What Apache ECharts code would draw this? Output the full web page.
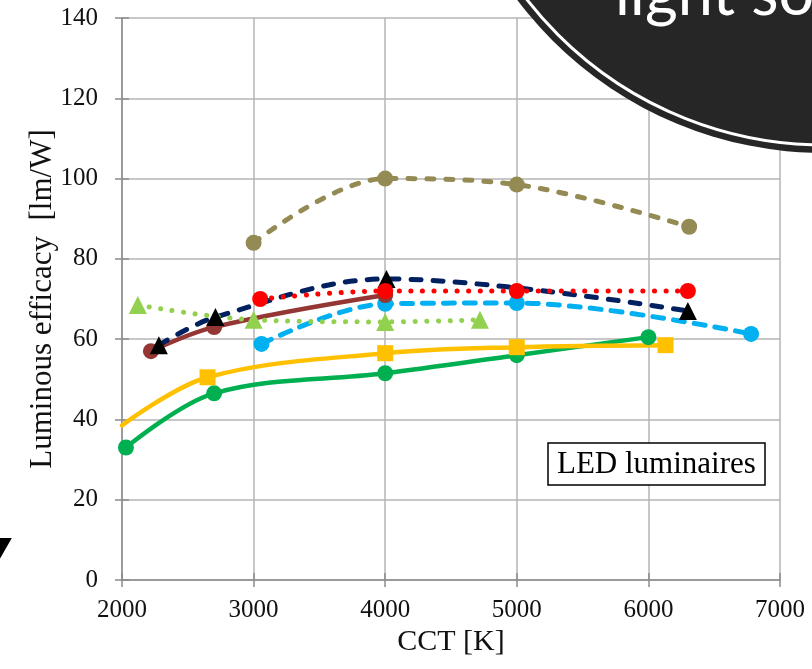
<!DOCTYPE html>
<html>
<head>
<meta charset="utf-8">
<script src="https://cdn.jsdelivr.net/npm/echarts@6/dist/echarts.min.js"></script>
<style>
  html, body { margin: 0; padding: 0; background: #fff; }
  #chart { width: 812px; height: 669px; }
</style>
</head>
<body>
<div id="chart"></div>
<script>
// ---- data (CCT in K, efficacy in lm/W) ----
const xTicks = [2000, 3000, 4000, 5000, 6000, 7000];
const yTicks = [0, 20, 40, 60, 80, 100, 120, 140];

const cctGreen = [2030, 2700, 4000, 5000, 6000];
const effGreen = [33, 46.5, 51.5, 56, 60.5];

const cctAmber = [2000, 2650, 4000, 5000, 6130];
const effAmber = [38.5, 50.5, 56.5, 58, 58.5];

const cctBlue = [3060, 4000, 5000, 6780];
const effBlue = [58.8, 68.8, 69, 61.3];

const cctBrown = [2220, 2700, 4000];
const effBrown = [57, 63, 71];

const cctNavy = [2280, 2710, 4010, 6300];
const effNavy = [58.5, 65.5, 75, 67];

const cctRed = [3050, 4000, 5000, 6300];
const effRed = [70, 72, 72, 72];

const cctLime = [2120, 3000, 4000, 4720];
const effLime = [68.5, 64.8, 64.3, 64.8];

const cctOlive = [3000, 4000, 5000, 6310];
const effOlive = [84, 100, 98.5, 88];

(function () {
  'use strict';
  const serif = "'Liberation Serif', 'DejaVu Serif', serif";
  const pairs = (xs, ys) => xs.map((x, i) => [x, ys[i]]);
  const axisGray = '#8c8c8c';

  function line(name, xs, ys, color, opts) {
    return Object.assign({
      name, type: 'line', data: pairs(xs, ys),
      smooth: 0.35, symbol: 'circle', symbolSize: 16,
      lineStyle: { color, width: 4.5, cap: 'round' },
      itemStyle: { color },
      emphasis: { disabled: true }
    }, opts || {});
  }

  const chart = echarts.init(document.getElementById('chart'));
  chart.setOption({
    animation: false,
    grid: { left: 122, right: 32, top: 18, bottom: 89 },
    title: {
      text: 'LED luminaires', left: 548, top: 443,
      borderColor: '#000', borderWidth: 1.5, padding: [6, 9, 5, 9],
      backgroundColor: '#fff',
      textStyle: { fontFamily: serif, fontSize: 31, fontWeight: 'normal', color: '#000' }
    },
    xAxis: [{
      type: 'value', min: 2000, max: 7000, interval: 1000,
      name: 'CCT [K]', nameLocation: 'middle', nameGap: 47, nameMoveOverlap: false,
      nameTextStyle: { fontFamily: serif, fontSize: 30, color: '#111' },
      axisLine: { lineStyle: { color: axisGray, width: 1.5 } },
      axisTick: { show: true, length: 7, lineStyle: { color: axisGray, width: 1.5 } },
      axisLabel: { fontFamily: serif, fontSize: 25, color: '#111', margin: 18,
                   formatter: (v) => xTicks.includes(v) ? String(v) : '' },
      splitLine: { show: true, lineStyle: { color: '#b4b4b4', width: 1.5 } }
    }, {
      type: 'value', min: 2000, max: 7000, interval: 1000, position: 'bottom',
      axisLine: { show: false }, axisLabel: { show: false }, splitLine: { show: false },
      axisTick: { show: true, inside: true, length: 7, lineStyle: { color: axisGray, width: 1.5 } }
    }],
    yAxis: [{
      type: 'value', min: 0, max: 140, interval: 20,
      name: 'Luminous efficacy  [lm/W]', nameLocation: 'middle', nameGap: 64, nameMoveOverlap: false,
      nameTextStyle: { fontFamily: serif, fontSize: 31, color: '#111' },
      axisLine: { show: true, lineStyle: { color: axisGray, width: 1.5 } },
      axisTick: { show: true, length: 7, lineStyle: { color: axisGray, width: 1.5 } },
      axisLabel: { fontFamily: serif, fontSize: 25, color: '#111', margin: 24,
                   formatter: (v) => yTicks.includes(v) ? String(v) : '' },
      splitLine: { show: true, lineStyle: { color: '#b4b4b4', width: 1.5 } }
    }, {
      type: 'value', min: 0, max: 140, interval: 20, position: 'left',
      axisLine: { show: false }, axisLabel: { show: false }, splitLine: { show: false },
      axisTick: { show: true, inside: true, length: 7, lineStyle: { color: axisGray, width: 1.5 } }
    }],
    series: [
      line('green', cctGreen, effGreen, '#00B050'),
      line('amber', cctAmber, effAmber, '#FFC000', {
        symbol: 'square', symbolSize: 16,
        data: pairs(cctAmber, effAmber).map((p, i) => i === 0 ? { value: p, symbol: 'none' } : p)
      }),
      line('blue', cctBlue, effBlue, '#00B0F0', {
        lineStyle: { color: '#00B0F0', width: 5, type: [11, 10], cap: 'round' }
      }),
      line('brown', cctBrown, effBrown, '#943634'),
      line('navy', cctNavy, effNavy, '#002060', {
        symbol: 'triangle', symbolSize: 18,
        itemStyle: { color: '#000' },
        lineStyle: { color: '#002060', width: 5, type: [10, 12], cap: 'round' }
      }),
      line('red', cctRed, effRed, '#FF0000', {
        lineStyle: { color: '#FF0000', width: 5, type: [0.1, 11.5], cap: 'round' }
      }),
      line('lime', cctLime, effLime, '#92D050', {
        symbol: 'triangle', symbolSize: 18,
        lineStyle: { color: '#92D050', width: 5, type: [0.1, 11.5], cap: 'round' }
      }),
      line('olive', cctOlive, effOlive, '#948A54', {
        lineStyle: { color: '#948A54', width: 5, type: [7, 12], cap: 'round' }
      })
    ],
    graphic: [
      { type: 'circle', z: 100, shape: { cx: 824, cy: -231, r: 384 },
        style: { fill: '#262626' } },
      { type: 'circle', z: 101, shape: { cx: 824, cy: -231, r: 376 },
        style: { fill: 'none', stroke: '#fff', lineWidth: 3 } },
      { type: 'text', z: 102, left: 615, top: -37,
        style: { text: 'light sources', fill: '#fff', font: '63px Lato, "Open Sans", sans-serif' } },
      { type: 'text', z: 102, left: -39, top: 523,
        style: { text: 'y', fill: '#000', font: 'bold italic 74px "DejaVu Sans", sans-serif' } }
    ]
  });
})();
</script>
</body>
</html>
